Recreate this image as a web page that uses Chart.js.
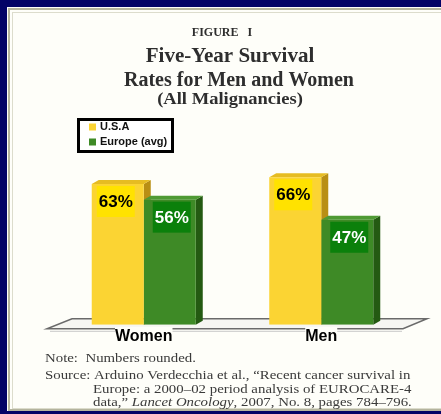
<!DOCTYPE html>
<html>
<head>
<meta charset="utf-8">
<script src="https://cdn.jsdelivr.net/npm/chart.js@4/dist/chart.umd.min.js"></script>
<style>
  html, body { margin: 0; padding: 0; background: #020266; }
  #wrap { width: 441px; height: 414px; }
</style>
</head>
<body>
<div id="wrap"><canvas id="chart" width="441" height="414"></canvas></div>
<script>
const categories = ['Women', 'Men'];
const seriesNames = ['U.S.A', 'Europe (avg)'];
const usaValues = [63, 66];
const europeValues = [56, 47];

const frontColors = ['#fbd433', '#3e8a26'];
const sideColors = ['#b98f14', '#245a12'];
const topColors = ['#e6bc22', '#4f9a34'];
const boxColors = ['#ffe200', '#0b800b'];
const boxText = ['#000000', '#ffffff'];

// draws stretched text, the scanned figure is a bit wider than the font
function wideText(ctx, text, x, y, sx) {
    ctx.save();
    ctx.translate(x, y);
    ctx.scale(sx, 1);
    ctx.fillText(text, 0, 0);
    const w = ctx.measureText(text).width * sx;
    ctx.restore();
    return w;
}

// panel, titles, footer, floor, legend
const decorPlugin = {
    id: 'decor',
    beforeDraw(chart) {
        const ctx = chart.ctx;
        const a = chart.chartArea;
        ctx.save();
        ctx.fillStyle = '#020266';
        ctx.fillRect(0, 0, chart.width, chart.height);
        ctx.fillStyle = '#fefef9';
        ctx.fillRect(7, 7, chart.width - 7, 404);
        ctx.strokeStyle = '#b4b49e';
        ctx.lineWidth = 2;
        ctx.strokeRect(9, 9, chart.width, 401);
        ctx.strokeStyle = '#dcdccc';
        ctx.lineWidth = 1;
        ctx.strokeRect(12.5, 12.5, chart.width, 396);

        ctx.fillStyle = '#2e2e2e';
        ctx.textAlign = 'center';
        ctx.textBaseline = 'middle';
        ctx.font = 'bold 12px "Liberation Serif", serif';
        ctx.fillText('FIGURE   I', 222, 33);
        ctx.font = 'bold 21px "Liberation Serif", serif';
        ctx.fillText('Five-Year Survival', 230, 57);
        ctx.font = 'bold 20px "Liberation Serif", serif';
        ctx.fillText('Rates for Men and Women', 239, 81);
        ctx.font = 'bold 17px "Liberation Serif", serif';
        wideText(ctx, '(All Malignancies)', 230, 100, 1.09);

        ctx.fillStyle = '#3a3a3a';
        ctx.textAlign = 'left';
        const sx = 1.1;
        ctx.font = '13.5px "Liberation Serif", serif';
        wideText(ctx, 'Note:  Numbers rounded.', 45, 358, sx);
        wideText(ctx, 'Source: Arduino Verdecchia et al., \u201cRecent cancer survival in', 45, 375, sx);
        wideText(ctx, 'Europe: a 2000\u201302 period analysis of EUROCARE-4', 93, 389, sx);
        let x = 93;
        const parts = [['data,\u201d ', false], ['Lancet Oncology', true], [', 2007, No. 8, pages 784\u2013796.', false]];
        parts.forEach(([t, it]) => {
            ctx.font = (it ? 'italic ' : '') + '13.5px "Liberation Serif", serif';
            x += wideText(ctx, t, x, 402, sx);
        });

        // floor
        ctx.beginPath();
        ctx.moveTo(a.left - 8, a.bottom + 4);
        ctx.lineTo(a.right - 7, a.bottom + 4);
        ctx.lineTo(a.right + 17, a.bottom - 6);
        ctx.lineTo(a.left + 17, a.bottom - 6);
        ctx.closePath();
        ctx.fillStyle = '#f6f6f2';
        ctx.fill();
        ctx.strokeStyle = '#6a6a6a';
        ctx.lineWidth = 1.5;
        ctx.stroke();
        ctx.strokeStyle = '#c8c8c8';
        ctx.lineWidth = 1;
        ctx.beginPath();
        ctx.moveTo(a.left - 5, a.bottom + 6.5);
        ctx.lineTo(a.right - 8, a.bottom + 6.5);
        ctx.stroke();
        ctx.restore();
    },
    beforeDatasetsDraw(chart) {
        const ctx = chart.ctx;
        ctx.save();
        // 3D side and top faces
        const d = 7, dy = 4;
        chart.data.datasets.forEach((ds, i) => {
            chart.getDatasetMeta(i).data.forEach(bar => {
                const l = bar.x - bar.width / 2;
                const r = bar.x + bar.width / 2;
                ctx.fillStyle = sideColors[i];
                ctx.beginPath();
                ctx.moveTo(r, bar.y);
                ctx.lineTo(r + d, bar.y - dy);
                ctx.lineTo(r + d, bar.base - dy);
                ctx.lineTo(r, bar.base);
                ctx.closePath();
                ctx.fill();
                ctx.fillStyle = topColors[i];
                ctx.beginPath();
                ctx.moveTo(l, bar.y);
                ctx.lineTo(l + d, bar.y - dy);
                ctx.lineTo(r + d, bar.y - dy);
                ctx.lineTo(r, bar.y);
                ctx.closePath();
                ctx.fill();
            });
        });
        ctx.restore();
    },
    afterDatasetsDraw(chart) {
        const ctx = chart.ctx;
        ctx.save();
        ctx.textAlign = 'center';
        ctx.textBaseline = 'middle';
        ctx.font = 'bold 17px "Liberation Sans", Arial, sans-serif';
        chart.data.datasets.forEach((ds, i) => {
            chart.getDatasetMeta(i).data.forEach((bar, j) => {
                const bw = 38, bh = 31;
                const cx = bar.x + (i === 0 ? -2 : 2);
                const top = bar.y + 2;
                ctx.fillStyle = boxColors[i];
                ctx.fillRect(cx - bw / 2, top, bw, bh);
                ctx.fillStyle = boxText[i];
                ctx.fillText(ds.data[j] + '%', cx, top + bh / 2 + 1);
            });
        });
        ctx.restore();
    },
    afterDraw(chart) {
        const ctx = chart.ctx;
        ctx.save();
        // legend box
        ctx.fillStyle = '#ffffff';
        ctx.fillRect(78, 119, 95, 33);
        ctx.strokeStyle = '#000000';
        ctx.lineWidth = 3;
        ctx.strokeRect(78.5, 119.5, 94, 32);
        ctx.font = 'bold 11px "Liberation Sans", Arial, sans-serif';
        ctx.textBaseline = 'middle';
        ctx.textAlign = 'left';
        seriesNames.forEach((name, i) => {
            const y = 127 + i * 15;
            ctx.fillStyle = frontColors[i];
            ctx.fillRect(89, y - 3.5, 7, 7);
            ctx.fillStyle = '#111111';
            ctx.fillText(name, 100, y);
        });
        ctx.restore();
    }
};

new Chart(document.getElementById('chart'), {
    type: 'bar',
    data: {
        labels: categories,
        datasets: [
            { label: seriesNames[0], data: usaValues, backgroundColor: frontColors[0] },
            { label: seriesNames[1], data: europeValues, backgroundColor: frontColors[1] }
        ]
    },
    options: {
        responsive: false,
        animation: false,
        events: [],
        layout: { padding: { left: 55, right: 31, top: 146, bottom: 66 } },
        datasets: { bar: { categoryPercentage: 0.586, barPercentage: 1 } },
        scales: {
            x: {
                grid: { display: false, drawTicks: false },
                border: { display: false },
                ticks: {
                    padding: 2,
                    color: '#000000',
                    font: { family: '"Liberation Sans", Arial, sans-serif', size: 16, weight: 'bold' },
                    showLabelBackdrop: true,
                    backdropColor: '#fefef9',
                    backdropPadding: (c) => c.index === 0
                        ? { top: 3, bottom: 1, left: 8, right: 100 }
                        : { top: 3, bottom: 1, left: 40, right: 0 }
                }
            },
            y: { display: false, min: 0, max: 80 }
        },
        plugins: {
            legend: { display: false },
            tooltip: { enabled: false }
        }
    },
    plugins: [decorPlugin]
});
</script>
</body>
</html>
